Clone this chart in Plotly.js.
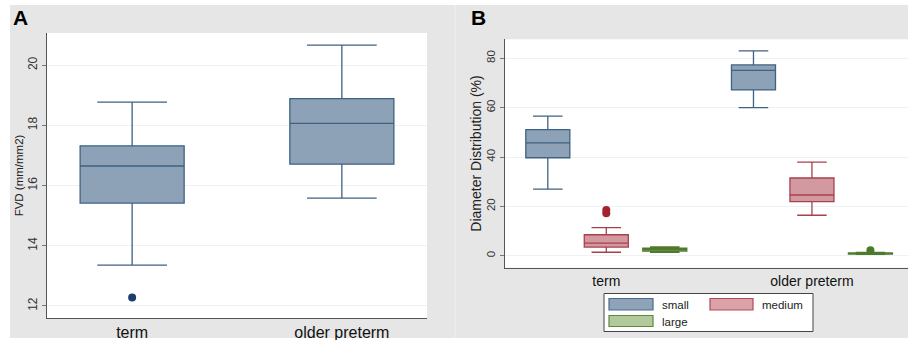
<!DOCTYPE html>
<html><head><meta charset="utf-8">
<script src="https://cdn.plot.ly/plotly-3.0.1.min.js"></script>
<style>html,body{margin:0;padding:0;background:#fff}</style>
</head><body><div id="chart" style="width:908px;height:340px"></div>
<script>
// ---------- data ----------
const groups = ['term', 'older preterm'];

// Panel A: FVD (mm/mm2)
const fvdLower = [13.36, 15.58];
const fvdQ1 = [15.42, 16.71];
const fvdMedian = [16.65, 18.07];
const fvdQ3 = [17.32, 18.89];
const fvdUpper = [18.77, 20.67];
const fvdOutliers = [[12.28], [null]];
const fvdTicks = [12, 14, 16, 18, 20];

// Panel B: Diameter distribution (%)
const sizeNames = ['small', 'medium', 'large'];
const smallLower = [27.0, 60.0];
const smallQ1 = [39.7, 67.2];
const smallMedian = [45.7, 75.1];
const smallQ3 = [51.1, 77.3];
const smallUpper = [56.6, 83.0];
const smallOutliers = [[null], [null]];

const mediumLower = [1.4, 16.4];
const mediumQ1 = [3.5, 21.9];
const mediumMedian = [5.1, 24.6];
const mediumQ3 = [8.5, 31.5];
const mediumUpper = [11.4, 37.9];
const mediumOutliers = [[17.2, 18.5], [null]];

const largeLower = [1.4, 0.5];
const largeQ1 = [1.9, 0.7];
const largeMedian = [2.6, 0.9];
const largeQ3 = [3.1, 1.1];
const largeUpper = [3.6, 1.3];
const largeOutliers = [[null], [2.2]];
const distTicks = [0, 20, 40, 60, 80];

// ---------- styling ----------
const W = 908, H = 340;
const px = v => v / W;
const py = v => (H - v) / H;
const FONT = 'Liberation Sans, Arial, Helvetica, sans-serif';

const colSmall = {fill: '#8ea2b7', line: '#3f6183', pt: '#1d3d6b'};
const colMedium = {fill: '#d29aa0', line: '#a8404c', pt: '#a3232f'};
const colLarge = {fill: '#a9c08c', line: '#4f7a2e', pt: '#4a7a25'};

function boxTrace(name, lf, q1, med, q3, uf, pts, col, xa, ya, extra) {
  return Object.assign({
    type: 'box', name: name, x: groups, y: pts,
    lowerfence: lf, q1: q1, median: med, q3: q3, upperfence: uf,
    boxpoints: 'outliers', jitter: 0, pointpos: 0,
    fillcolor: col.fill, line: {color: col.line, width: 1.3},
    marker: {color: col.pt, size: 8, line: {width: 0}},
    whiskerwidth: 0.67, xaxis: xa, yaxis: ya, showlegend: false, hoverinfo: 'skip'
  }, extra || {});
}

const traces = [
  boxTrace('FVD', fvdLower, fvdQ1, fvdMedian, fvdQ3, fvdUpper, fvdOutliers, colSmall, 'x', 'y', {width: 0.496}),
  boxTrace(sizeNames[0], smallLower, smallQ1, smallMedian, smallQ3, smallUpper, smallOutliers, colSmall, 'x2', 'y2', {offsetgroup: 's', alignmentgroup: 'b'}),
  boxTrace(sizeNames[1], mediumLower, mediumQ1, mediumMedian, mediumQ3, mediumUpper, mediumOutliers, colMedium, 'x2', 'y2', {offsetgroup: 'm', alignmentgroup: 'b'}),
  boxTrace(sizeNames[2], largeLower, largeQ1, largeMedian, largeQ3, largeUpper, largeOutliers, colLarge, 'x2', 'y2', {offsetgroup: 'l', alignmentgroup: 'b'})
];

const gridC = '#edf2f2';
const axLine = '#555555';

const layout = {
  width: W, height: H,
  margin: {l: 0, r: 0, t: 0, b: 0},
  paper_bgcolor: '#e6e6e6', plot_bgcolor: '#ffffff',
  font: {family: FONT, color: '#222'},
  boxmode: 'group', boxgap: 0.147, boxgroupgap: 0.247,
  showlegend: false,
  xaxis: {
    domain: [px(47), px(427)], anchor: 'y', type: 'category',
    range: [-0.406, 1.406], showgrid: false, zeroline: false,
    showline: true, linecolor: axLine, linewidth: 1.2, ticks: '',
    tickfont: {size: 16, color: '#111'}
  },
  yaxis: {
    domain: [py(318), py(33)], anchor: 'x',
    range: [11.6, 21.07], tickvals: fvdTicks, tickangle: -90,
    showgrid: true, gridcolor: gridC, gridwidth: 1, zeroline: false,
    showline: true, linecolor: axLine, linewidth: 1.2,
    ticks: 'outside', ticklen: 4, tickcolor: '#777', tickfont: {size: 12, color: '#333'},
    title: {text: 'FVD (mm/mm2)', font: {size: 11.5, color: '#222'}, standoff: 0},
    automargin: false
  },
  xaxis2: {
    domain: [px(505), 1], anchor: 'y2', type: 'category',
    range: [-0.4925, 1.467], showgrid: false, zeroline: false,
    showline: true, linecolor: axLine, linewidth: 1.2, ticks: '',
    tickfont: {size: 14, color: '#111'}
  },
  yaxis2: {
    domain: [py(267.7), py(39.3)], anchor: 'x2',
    range: [-4.86, 87.7], tickvals: distTicks, tickangle: -90,
    showgrid: true, gridcolor: gridC, gridwidth: 1, zeroline: false,
    showline: true, linecolor: axLine, linewidth: 1.2,
    ticks: 'outside', ticklen: 4, tickcolor: '#777', tickfont: {size: 11.5, color: '#333'},
    title: {text: 'Diameter Distribution (%)', font: {size: 14, color: '#222'}, standoff: 0},
    automargin: false
  },
  shapes: [
    {type: 'rect', xref: 'paper', yref: 'paper', x0: 0, x1: 1, y0: py(5), y1: 1, fillcolor: '#fff', line: {width: 0}, layer: 'below'},
    {type: 'rect', xref: 'paper', yref: 'paper', x0: 0, x1: px(10), y0: 0, y1: 1, fillcolor: '#fff', line: {width: 0}, layer: 'below'},
    {type: 'rect', xref: 'paper', yref: 'paper', x0: 0, x1: 1, y0: 0, y1: py(338), fillcolor: '#fff', line: {width: 0}, layer: 'below'},
    {type: 'line', xref: 'paper', yref: 'paper', x0: px(455), x1: px(455), y0: py(338), y1: py(5), line: {color: '#efefef', width: 1}, layer: 'below'},
    {type: 'rect', xref: 'paper', yref: 'paper', x0: px(604), x1: px(813), y0: py(331.5), y1: py(293.5), fillcolor: '#ffffff', line: {color: '#444', width: 1}},
    {type: 'rect', xref: 'paper', yref: 'paper', x0: px(609), x1: px(653), y0: py(310), y1: py(298.5), fillcolor: '#8ea2b8', line: {color: '#4a6c8e', width: 1.2}},
    {type: 'rect', xref: 'paper', yref: 'paper', x0: px(710), x1: px(753), y0: py(310), y1: py(298.5), fillcolor: '#d9a3a9', line: {color: '#b34a56', width: 1.2}},
    {type: 'rect', xref: 'paper', yref: 'paper', x0: px(609), x1: px(653), y0: py(326.5), y1: py(315.5), fillcolor: '#b1c99b', line: {color: '#5b8a3a', width: 1.2}}
  ],
  annotations: [
    {text: '<b>A</b>', xref: 'paper', yref: 'paper', x: px(11), y: py(17.5), xanchor: 'left', yanchor: 'middle', showarrow: false, font: {size: 21, color: '#000', family: FONT}},
    {text: '<b>B</b>', xref: 'paper', yref: 'paper', x: px(469), y: py(17.5), xanchor: 'left', yanchor: 'middle', showarrow: false, font: {size: 21, color: '#000', family: FONT}},
    {text: sizeNames[0], xref: 'paper', yref: 'paper', x: px(660), y: py(304.5), xanchor: 'left', yanchor: 'middle', showarrow: false, font: {size: 11.5, color: '#222'}},
    {text: sizeNames[1], xref: 'paper', yref: 'paper', x: px(760), y: py(304.5), xanchor: 'left', yanchor: 'middle', showarrow: false, font: {size: 11.5, color: '#222'}},
    {text: sizeNames[2], xref: 'paper', yref: 'paper', x: px(660), y: py(321.5), xanchor: 'left', yanchor: 'middle', showarrow: false, font: {size: 11.5, color: '#222'}}
  ]
};

Plotly.newPlot('chart', traces, layout, {displayModeBar: false, staticPlot: true});
</script>
</body></html>
